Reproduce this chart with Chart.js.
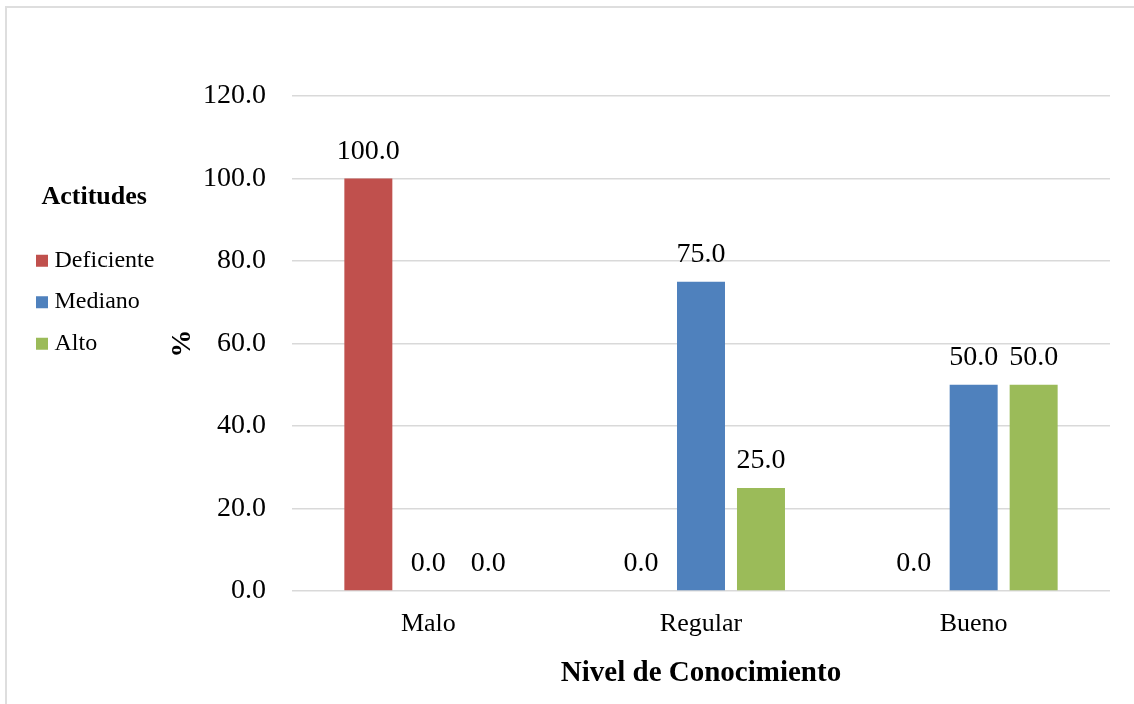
<!DOCTYPE html>
<html lang="es">
<head>
<meta charset="utf-8">
<title>Actitudes según nivel de conocimiento</title>
<script src="https://cdn.jsdelivr.net/npm/chart.js@4.4.1/dist/chart.umd.min.js"></script>
<style>
  html, body { margin: 0; padding: 0; background: #ffffff; overflow: hidden; }
  .frame {
    position: absolute; left: 5px; top: 6px; width: 1200px; height: 800px;
    border: 2px solid #dedede; box-sizing: border-box;
  }
  #chart { position: absolute; left: 0; top: 0; }
</style>
</head>
<body>
<div class="frame"></div>
<canvas id="chart" width="1134" height="704"></canvas>
<script>
// Nivel de conocimiento (eje X)
const categories = ['Malo', 'Regular', 'Bueno'];

// Porcentajes por nivel de actitud
const seriesNames = ['Deficiente', 'Mediano', 'Alto'];
const deficiente = [100.0, 0.0, 0.0];
const mediano    = [0.0, 75.0, 50.0];
const alto       = [0.0, 25.0, 50.0];

// Marcas del eje Y
const yTicks = [0, 20, 40, 60, 80, 100, 120];

const seriesColors = ['#C0504D', '#4F81BD', '#9BBB59'];
const serif = "'Liberation Serif', 'Times New Roman', serif";
const PLOT_LEFT = 292;     // borde izquierdo del área de trazado
const LEGEND_LEFT = 24;

// Etiquetas de valor sobre cada barra
const valueLabels = {
  id: 'valueLabels',
  afterDatasetsDraw(chart) {
    const ctx = chart.ctx;
    ctx.save();
    ctx.font = '28px ' + serif;
    ctx.fillStyle = '#000000';
    ctx.textAlign = 'center';
    ctx.textBaseline = 'middle';
    chart.data.datasets.forEach((ds, di) => {
      const meta = chart.getDatasetMeta(di);
      meta.data.forEach((bar, i) => {
        ctx.fillText(ds.data[i].toFixed(1), bar.x, bar.y - 27);
      });
    });
    ctx.restore();
  }
};

new Chart(document.getElementById('chart'), {
  type: 'bar',
  data: {
    labels: categories,
    datasets: [deficiente, mediano, alto].map((values, i) => ({
      label: seriesNames[i],
      data: values,
      backgroundColor: seriesColors[i],
      borderWidth: 0,
      categoryPercentage: 0.66,
      barPercentage: 0.8
    }))
  },
  options: {
    responsive: false,
    animation: false,
    layout: { padding: { left: LEGEND_LEFT, top: 96, right: 24, bottom: 10.6 } },
    plugins: {
      tooltip: { enabled: false },
      legend: {
        position: 'left',
        align: 'start',
        title: {
          display: true,
          text: 'Actitudes',
          color: '#000000',
          font: { family: serif, size: 26, weight: 'bold' },
          padding: { top: 88, bottom: 16 }
        },
        labels: {
          color: '#000000',
          font: { family: serif, size: 24 },
          usePointStyle: true,
          pointStyle: 'rect',
          boxWidth: 1,
          boxHeight: 12,
          padding: 17.5
        }
      }
    },
    scales: {
      x: {
        afterFit(scale) { scale.height = 102.4; },
        grid: { display: false },
        border: { display: false },
        ticks: {
          color: '#000000',
          font: { family: serif, size: 26 },
          padding: 9.4
        },
        title: {
          display: true,
          text: 'Nivel de Conocimiento',
          color: '#000000',
          font: { family: serif, size: 29, weight: 'bold' },
          padding: { top: 16, bottom: 2 }
        }
      },
      y: {
        min: yTicks[0],
        max: yTicks[yTicks.length - 1],
        afterBuildTicks(scale) {
          scale.ticks = yTicks.map(v => ({ value: v }));
        },
        afterFit(scale) {
          const legendWidth = scale.chart.legend ? scale.chart.legend.width : 0;
          scale.width = PLOT_LEFT - LEGEND_LEFT - legendWidth;
        },
        grid: { color: '#d9d9d9', lineWidth: 1.5, drawTicks: false },
        border: { display: false },
        ticks: {
          color: '#000000',
          font: { family: serif, size: 28 },
          padding: 26,
          callback: v => Number(v).toFixed(1)
        },
        title: {
          display: true,
          text: '%',
          color: '#000000',
          font: { family: serif, size: 28, weight: 'bold', lineHeight: 1 },
          padding: { top: 4, bottom: 0 }
        }
      }
    }
  },
  plugins: [valueLabels]
});
</script>
</body>
</html>
